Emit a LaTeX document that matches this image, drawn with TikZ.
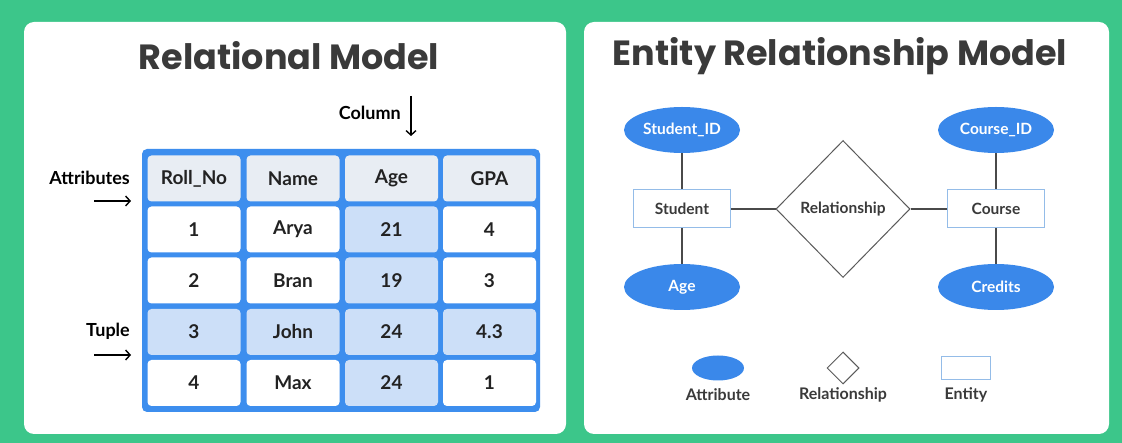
\documentclass[tikz,border=0pt]{standalone}
\usepackage{fontspec}
\setmainfont{Lato}
\newfontfamily\titlefont{Poppins}
\usetikzlibrary{shapes.geometric,arrows.meta}
\definecolor{bggreen}{HTML}{3CC68A}
\definecolor{tblue}{HTML}{3D8EEE}
\definecolor{hdrcell}{HTML}{E8EDF3}
\definecolor{hlcell}{HTML}{CCDFF8}
\definecolor{ellblue}{HTML}{3A88EA}
\definecolor{entborder}{HTML}{94BCE8}
\definecolor{titlegray}{HTML}{3A3A3A}
\definecolor{txt}{HTML}{222222}
\definecolor{linegray}{HTML}{4A4A4A}
\definecolor{relgray}{HTML}{5A5A5A}
\begin{document}
\begin{tikzpicture}[x=1pt,y=-1pt,
  cell/.style={rounded corners=4pt, minimum width=93pt, minimum height=46pt, inner sep=0pt,
    font=\fontsize{19}{21}\selectfont\bfseries, text=txt},
  plaincell/.style={cell, fill=white},
  hdrcell/.style={cell, fill=hdrcell},
  hlcell/.style={cell, fill=hlcell},
  sidelbl/.style={font=\fontsize{18}{20}\selectfont\bfseries, text=black, inner sep=0pt},
  arr/.style={line width=1.4pt, -{Straight Barb[length=4.5pt,width=10pt]}},
  titlestyle/.style={font=\titlefont\fontsize{35}{40}\selectfont\bfseries, text=titlegray, inner sep=0pt},
  attrnode/.style={ellipse, fill=ellblue, text=white, minimum width=116pt, minimum height=46pt,
    inner sep=0pt, font=\fontsize{15.5}{17}\selectfont\bfseries},
  entnode/.style={rectangle, draw=entborder, line width=1pt, fill=white, minimum width=97pt,
    minimum height=38pt, inner sep=0pt, text=titlegray, font=\fontsize{15.5}{17}\selectfont\bfseries},
  relnode/.style={diamond, draw=relgray, line width=1pt, fill=white, minimum width=134pt,
    minimum height=137pt, inner sep=0pt, text=titlegray, font=\fontsize{15.5}{17}\selectfont\bfseries},
  conn/.style={draw=linegray, line width=1.5pt},
  legtxt/.style={font=\fontsize{16}{18}\selectfont\bfseries, text=titlegray, inner sep=0pt}
]
\useasboundingbox (0,0) rectangle (1122,443);
% background and panels
\fill[bggreen] (0,0) rectangle (1122,443);
\fill[white, rounded corners=10pt] (24,22) rectangle (566,434);
\fill[white, rounded corners=10pt] (584,22) rectangle (1109,434);

% titles
\node[titlestyle] (t1) at (289,56) {Relational Model};
\node[titlestyle] (t2) at (840,56) {Entity Relationship Model};

% table
\fill[tblue, rounded corners=5pt] (142,149) rectangle (540,412);
\node[hdrcell] (h1) at (194,178.5) {Roll\_No};
\node[hdrcell] (h2) at (293,178.5) {Name};
\node[hdrcell] (h3) at (391.5,178.5) {Age};
\node[hdrcell] (h4) at (489.5,178.5) {GPA};

\node[plaincell] (r1c1) at (194,229.5) {1};
\node[plaincell] (r1c2) at (293,229.5) {Arya};
\node[hlcell]    (r1c3) at (391.5,229.5) {21};
\node[plaincell] (r1c4) at (489.5,229.5) {4};

\node[plaincell] (r2c1) at (194,280.5) {2};
\node[plaincell] (r2c2) at (293,280.5) {Bran};
\node[hlcell]    (r2c3) at (391.5,280.5) {19};
\node[plaincell] (r2c4) at (489.5,280.5) {3};

\node[hlcell] (r3c1) at (194,332) {3};
\node[hlcell] (r3c2) at (293,332) {John};
\node[hlcell] (r3c3) at (391.5,332) {24};
\node[hlcell] (r3c4) at (489.5,332) {4.3};

\node[plaincell] (r4c1) at (194,383) {4};
\node[plaincell] (r4c2) at (293,383) {Max};
\node[hlcell]    (r4c3) at (391.5,383) {24};
\node[plaincell] (r4c4) at (489.5,383) {1};

% side labels
\node[sidelbl, anchor=east] (colLbl) at (401,113) {Column};
\coordinate (colA) at (411,96);
\coordinate (colB) at (411,136);
\draw[arr] (colA) -- (colB);

\node[sidelbl, anchor=east] (attrLbl) at (130,178) {Attributes};
\coordinate (attrA) at (94,201);
\coordinate (attrB) at (131,201);
\draw[arr] (attrA) -- (attrB);

\node[sidelbl, anchor=east] (tupLbl) at (130,331) {Tuple};
\coordinate (tupA) at (94,355);
\coordinate (tupB) at (131,355);
\draw[arr] (tupA) -- (tupB);

% ER diagram
\node[attrnode] (sid) at (682,130) {Student\_ID};
\node[entnode] (stu) at (682,209) {Student};
\node[attrnode] (sage) at (682,287) {Age};
\node[relnode] (rel) at (843,209) {Relationship};
\node[entnode] (crs) at (996,209) {Course};
\node[attrnode] (cid) at (996,130) {Course\_ID};
\node[attrnode] (cred) at (996,287) {Credits};

\draw[conn] (sid) -- (stu);
\draw[conn] (stu) -- (sage);
\draw[conn] (stu) -- (rel);
\draw[conn] (rel) -- (crs);
\draw[conn] (cid) -- (crs);
\draw[conn] (crs) -- (cred);

% legend
\node[ellipse, fill=ellblue, minimum width=52pt, minimum height=25pt, inner sep=0pt] (legA) at (718,368) {};
\node[legtxt] (legAl) at (718,395) {Attribute};
\node[diamond, draw=relgray, line width=1pt, minimum width=32pt, minimum height=32pt, inner sep=0pt] (legR) at (843,368) {};
\node[legtxt] (legRl) at (843,395) {Relationship};
\node[draw=entborder, line width=1pt, minimum width=49pt, minimum height=23pt, inner sep=0pt] (legE) at (966,368) {};
\node[legtxt] (legEl) at (966,395) {Entity};
\end{tikzpicture}
\end{document}
